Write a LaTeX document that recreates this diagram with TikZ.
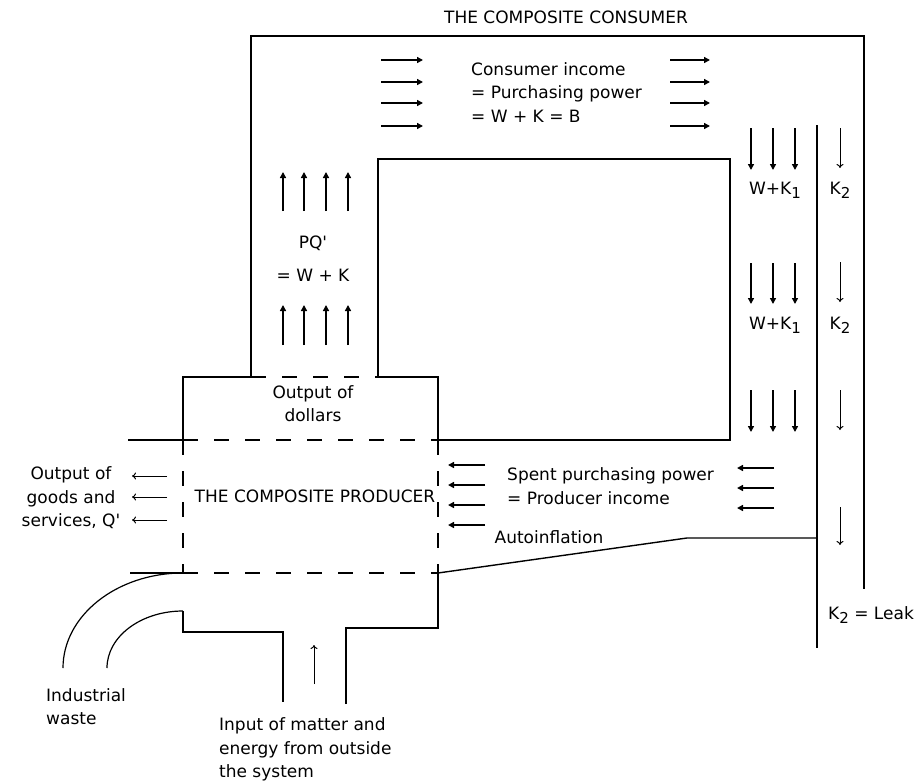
\documentclass[tikz,border=0pt]{standalone}
\usepackage{fontspec}
\setmainfont{DejaVu Sans}
\usetikzlibrary{arrows.meta}
\newcommand\sbx[1]{\raisebox{-0.45ex}{\fontsize{15}{15}\selectfont #1}}
\begin{document}
\begin{tikzpicture}[x=1pt,y=-1pt,
  wall/.style={line width=1.6pt},
  dwall/.style={line width=1.6pt, dash pattern=on 15pt off 16pt},
  fat/.style={line width=1.5pt,-{Triangle[length=6pt,width=6pt]}},
  thinarr/.style={line width=1pt,-{To[length=4pt,width=7pt]}},
  lbl/.style={font=\fontsize{17}{23.5}\selectfont, inner sep=0pt},
  curv/.style={line width=1.2pt}]
\useasboundingbox (0,0) rectangle (919,782);

% texts
\node[lbl] (title) at (566,17) {THE COMPOSITE CONSUMER};
\node[lbl,align=left,anchor=west] (cinc) at (471,92.5) {Consumer income\\= Purchasing power\\= W + K = B};
\node[lbl] (pq) at (313,243) {PQ\textquotesingle};
\node[lbl] (wk) at (313,275) {= W + K};
\node[lbl,align=center] (dollars) at (313,403.5) {Output of\\dollars};
\node[lbl] (producer) at (315,496) {THE COMPOSITE PRODUCER};
\node[lbl,align=center] (goods) at (71,498) {Output of\\goods and\\services, Q\textquotesingle};
\node[lbl,align=left,anchor=west] (spent) at (507,486) {Spent purchasing power\\= Producer income};
\node[lbl] (auto) at (549,537) {Autoinflation};
\node[lbl] (wka) at (775,190) {W+K\sbx{1}};
\node[lbl] (wkb) at (775,325) {W+K\sbx{1}};
\node[lbl] (k2a) at (840,190) {K\sbx{2}};
\node[lbl] (k2b) at (840,325) {K\sbx{2}};
\node[lbl,anchor=west] (leak) at (828,615) {K\sbx{2} = Leak};
\node[lbl,align=left,anchor=west] (waste) at (46,706.5) {Industrial\\waste};
\node[lbl,align=left,anchor=west] (input) at (219,749.5) {Input of matter and\\energy from outside\\the system};

% consumer
\draw[wall] (251,377) -- (251,36) -- (864,36) -- (864,589);
\draw[wall] (817,125) -- (817,648);
\draw[wall] (378,377) -- (378,159) -- (730,159) -- (730,440) -- (433,440);

% producer
\draw[wall] (183,440) -- (183,377) -- (251,377);
\draw[dwall] (251,377) -- (378,377);
\draw[wall] (378,377) -- (438,377) -- (438,447);
\draw[wall] (128,440) -- (183,440);
\draw[dwall] (183,440) -- (438,440);
\draw[dwall] (183,440) -- (183,573);
\draw[dwall] (438,440) -- (438,573);
\draw[dwall] (183,573) -- (438,573);
\draw[wall] (130,573) -- (183,573);
\draw[wall] (183,611) -- (183,632) -- (283,632) -- (283,702);
\draw[wall] (346,704) -- (346,628) -- (438,628) -- (438,567);
\draw[line width=1.4pt] (438,573) -- (687,538) -- (817,538);

% waste curves
\draw[curv] (183,573) .. controls (116.8,573) and (63,615.6) .. (63,668);
\draw[curv] (183,611) .. controls (141,611) and (107,636.5) .. (107,668);

% arrows
\foreach \y in {60,82,103,126} {
  \draw[fat] (381,\y) -- (423,\y);
  \draw[fat] (670,\y) -- (710,\y);
}
\foreach \x in {283,304,326,348} {
  \draw[fat] (\x,211) -- (\x,172);
  \draw[fat] (\x,345) -- (\x,305);
}
\foreach \x in {751,773,795} {
  \foreach \a/\b in {128/170,263/304,390/432}
    \draw[fat] (\x,\a) -- (\x,\b);
}
\foreach \a/\b in {128/168,262/302,390/430,507/545}
  \draw[thinarr] (840,\a) -- (840,\b);
\foreach \y in {465,485,505,525}
  \draw[fat] (485,\y) -- (448,\y);
\foreach \y in {468,488,508}
  \draw[fat] (774,\y) -- (737,\y);
\foreach \y in {476,497,520}
  \draw[thinarr] (167,\y) -- (132,\y);
\draw[thinarr] (314,684) -- (314,645);
\end{tikzpicture}
\end{document}
